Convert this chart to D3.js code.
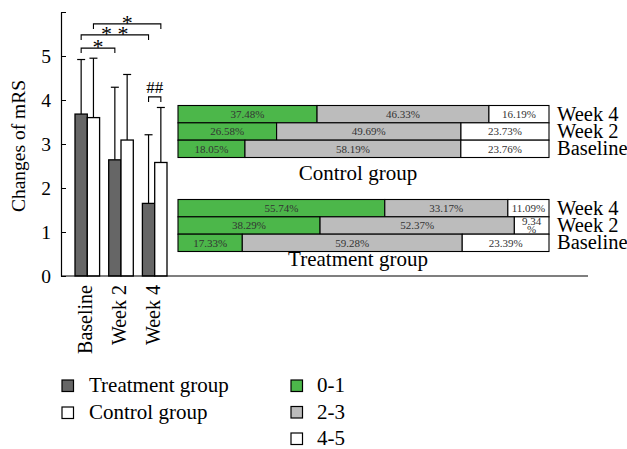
<!DOCTYPE html>
<html lang="en">
<head>
  <meta charset="UTF-8" />
  <title>Changes of mRS</title>
  <style>
    html, body { margin: 0; padding: 0; background: #fff; }
    svg { display: block; font-family: "Liberation Serif", "DejaVu Serif", serif; }
    .axis path, .axis line { stroke: #000; }
    .pct { font-size: 11px; fill: #333; text-anchor: middle; }
  </style>
  <script src="https://d3js.org/d3.v7.min.js"></script>
</head>
<body>
  <svg id="chart" width="627" height="449"></svg>
  <script>
    // left panel: mean mRS with upper error
    const timepoints = ["Baseline", "Week 2", "Week 4"];
    const groups = ["Treatment group", "Control group"];
    const treatMean = [3.68, 2.64, 1.65];
    const treatErr  = [4.92, 4.29, 3.21];
    const ctrlMean  = [3.60, 3.09, 2.58];
    const ctrlErr   = [4.95, 4.58, 3.83];
    const yTicks = [0, 1, 2, 3, 4, 5];

    // significance marks: [timepoint, group] -> [timepoint, group], level in mRS units
    const sigFrom  = [["Baseline", 0], ["Baseline", 0], ["Baseline", 1], ["Week 4", 0]];
    const sigTo    = [["Week 2", 0],   ["Week 4", 0],   ["Week 4", 1],   ["Week 4", 1]];
    const sigLevel = [5.18, 5.48, 5.73, 4.07];
    const sigLabel = ["*", "* *", "*", "##"];

    // right panel: mRS distribution (%)
    const rows = ["Week 4", "Week 2", "Baseline"];
    const bands = ["0-1", "2-3", "4-5"];
    const bandColors = ["#4cb74a", "#bcbcbc", "#ffffff"];
    const ctrlDist = [[37.48, 46.33, 16.19], [26.58, 49.69, 23.73], [18.05, 58.19, 23.76]];
    const treatDist = [[55.74, 33.17, 11.09], [38.29, 52.37, 9.34], [17.33, 59.28, 23.39]];

    const svg = d3.select("#chart");

    // ---- left bar chart ----
    const y = d3.scaleLinear().domain([0, 6]).range([276, 12]);
    const x0 = d3.scaleBand().domain(timepoints).range([75, 167]).paddingInner(0.27).paddingOuter(0);
    const x1 = d3.scaleBand().domain([0, 1]).range([0, x0.bandwidth()]);
    const cx = (t, g) => x0(t) + x1(g) + x1.bandwidth() / 2;

    const barData = [];
    timepoints.forEach((t, i) => {
      barData.push({ t, g: 0, v: treatMean[i], e: treatErr[i] });
      barData.push({ t, g: 1, v: ctrlMean[i], e: ctrlErr[i] });
    });

    // error bars
    const eb = svg.append("g").attr("stroke", "#000").attr("stroke-width", 1.2);
    eb.selectAll("line.v").data(barData).join("line")
      .attr("x1", d => cx(d.t, d.g)).attr("x2", d => cx(d.t, d.g))
      .attr("y1", d => y(d.v)).attr("y2", d => y(d.e));
    eb.selectAll("line.c").data(barData).join("line")
      .attr("x1", d => cx(d.t, d.g) - 4).attr("x2", d => cx(d.t, d.g) + 4)
      .attr("y1", d => y(d.e)).attr("y2", d => y(d.e));

    svg.append("g").selectAll("rect").data(barData).join("rect")
      .attr("x", d => x0(d.t) + x1(d.g))
      .attr("width", x1.bandwidth())
      .attr("y", d => y(d.v))
      .attr("height", d => y(0) - y(d.v))
      .attr("fill", d => d.g === 0 ? "#666666" : "#ffffff")
      .attr("stroke", "#000").attr("stroke-width", 1.3);

    // y axis, ticks pointing inward
    const yAxis = svg.append("g").attr("class", "axis")
      .attr("transform", "translate(61,0)")
      .call(d3.axisRight(y).tickValues([0, 1, 2, 3, 4, 5, 6]).tickSize(5).tickSizeOuter(0).tickFormat(""));
    yAxis.select(".domain").attr("stroke-width", 1.2);
    svg.append("g").selectAll("text").data(yTicks).join("text")
      .attr("x", 51).attr("y", d => y(d) + 6.5)
      .attr("text-anchor", "end").attr("font-size", 19.5).text(d => d);

    // x axis line
    svg.append("line").attr("x1", 61).attr("x2", 588).attr("y1", y(0)).attr("y2", y(0))
      .attr("stroke", "#000").attr("stroke-width", 1.2);

    svg.append("g").selectAll("text").data(timepoints).join("text")
      .attr("transform", d => `translate(${x0(d) + x0.bandwidth() / 2 + 5},285) rotate(-90)`)
      .attr("text-anchor", "end").attr("font-size", 20).text(d => d);

    svg.append("text")
      .attr("transform", "translate(25,146) rotate(-90)")
      .attr("text-anchor", "middle").attr("font-size", 19.5).text("Changes of mRS");

    // significance brackets
    const sig = svg.append("g");
    sigLevel.forEach((lv, i) => {
      const xa = cx(sigFrom[i][0], sigFrom[i][1]);
      const xb = cx(sigTo[i][0], sigTo[i][1]);
      const yl = y(lv);
      sig.append("path")
        .attr("d", `M${xa},${yl + 5}V${yl}H${xb}V${yl + 5}`)
        .attr("fill", "none").attr("stroke", "#000").attr("stroke-width", 1.1);
      const hash = sigLabel[i].startsWith("#");
      sig.append("text")
        .attr("x", (xa + xb) / 2)
        .attr("y", hash ? yl - 3.5 : yl + 6)
        .attr("text-anchor", "middle")
        .attr("font-size", hash ? 17 : 22)
        .text(sigLabel[i]);
    });

    // ---- right stacked bars ----
    const xs = d3.scaleLinear().domain([0, 100]).range([178, 549]);

    function panel(dist, top, title, titleY) {
      const yr = d3.scaleBand().domain(rows).range([top, top + 52]);
      const g = svg.append("g");
      rows.forEach((r, ri) => {
        const stack = d3.cumsum(dist[ri]);
        const segs = dist[ri].map((v, k) => ({ v, k, x0: stack[k] - v, x1: stack[k] }));
        const row = g.append("g");
        row.selectAll("rect").data(segs).join("rect")
          .attr("x", d => xs(d.x0)).attr("width", d => xs(d.x1) - xs(d.x0))
          .attr("y", yr(r)).attr("height", yr.bandwidth())
          .attr("fill", d => bandColors[d.k])
          .attr("stroke", "#000").attr("stroke-width", 1.1);
        const cyr = yr(r) + yr.bandwidth() / 2;
        segs.forEach(d => {
          const mid = (xs(d.x0) + xs(d.x1)) / 2;
          const t = row.append("text").attr("class", "pct")
            .attr("x", mid).attr("y", cyr + 3.8).text(d.v.toFixed(2) + "%");
          if (d.v < 10) {
            // too narrow: wrap the percent sign onto a second line
            t.text(null).attr("font-size", 10);
            t.append("tspan").attr("x", mid).attr("y", cyr - 0.5).text(d.v.toFixed(2));
            t.append("tspan").attr("x", mid).attr("y", cyr + 7).text("%");
          }
        });
        g.append("text").attr("x", 557).attr("y", cyr + 6.5)
          .attr("font-size", 20.5).text(r);
      });
      g.append("text").attr("x", 358).attr("y", titleY)
        .attr("text-anchor", "middle").attr("font-size", 21).text(title);
    }
    panel(ctrlDist, 105.5, "Control group", 180);
    panel(treatDist, 199.5, "Treatment group", 266);

    // ---- legends ----
    const leg1 = svg.append("g").selectAll("g").data(groups).join("g")
      .attr("transform", (d, i) => `translate(62,${380 + i * 27})`);
    leg1.append("rect").attr("width", 11.5).attr("height", 11.5)
      .attr("fill", (d, i) => i === 0 ? "#666666" : "#fff")
      .attr("stroke", "#000").attr("stroke-width", 1.2);
    leg1.append("text").attr("x", 27).attr("y", 12).attr("font-size", 21).text(d => d);

    const leg2 = svg.append("g").selectAll("g").data(bands).join("g")
      .attr("transform", (d, i) => `translate(291,${380 + i * 26.5})`);
    leg2.append("rect").attr("width", 11.5).attr("height", 11.5)
      .attr("fill", (d, i) => bandColors[i])
      .attr("stroke", "#000").attr("stroke-width", 1.2);
    leg2.append("text").attr("x", 26).attr("y", 12).attr("font-size", 21).text(d => d);
  </script>
</body>
</html>
